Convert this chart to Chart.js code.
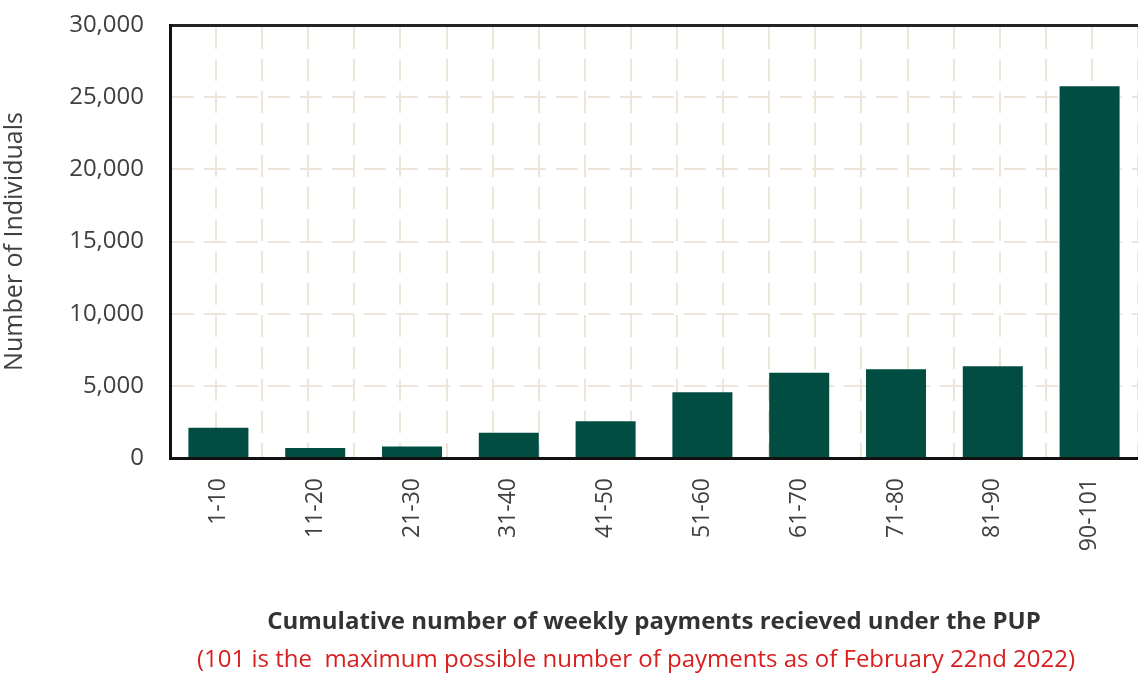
<!DOCTYPE html>
<html>
<head>
<meta charset="utf-8">
<script src="https://cdn.jsdelivr.net/npm/chart.js@4/dist/chart.umd.min.js"></script>
<style>
  html, body { margin: 0; padding: 0; background: #fff; }
  #wrap { width: 1138px; height: 673px; }
</style>
</head>
<body>
<div id="wrap"><canvas id="pupChart" width="1138" height="673"></canvas></div>
<script>
const categories = ["1-10", "11-20", "21-30", "31-40", "41-50", "51-60", "61-70", "71-80", "81-90", "90-101"];
const individuals = [2100, 700, 800, 1750, 2550, 4550, 5900, 6150, 6350, 25750];
const yTicks = [0, 5000, 10000, 15000, 20000, 25000, 30000];

const gridColor = "#ede6d8";
const font = "'Open Sans', 'Noto Sans', sans-serif";
const noteText = "(101 is the  maximum possible number of payments as of February 22nd 2022)";

// red note line under the axis title, centred on the plot area
const notePlugin = {
  id: "note",
  afterDraw(chart) {
    const { ctx, chartArea } = chart;
    ctx.save();
    ctx.font = "24px " + font;
    ctx.fillStyle = "#d81e1e";
    ctx.textAlign = "center";
    ctx.textBaseline = "middle";
    ctx.fillText(noteText, (chartArea.left + chartArea.right) / 2 - 18, 660);
    ctx.restore();
  }
};

const canvas = document.getElementById("pupChart");

new Chart(canvas, {
  type: "bar",
  data: {
    labels: categories,
    datasets: [{
      label: "Number of Individuals",
      data: individuals,
      backgroundColor: "#024d41",
      barPercentage: 0.62,
      categoryPercentage: 1.0
    }]
  },
  options: {
    responsive: false,
    animation: false,
    layout: { padding: 0 },
    plugins: {
      legend: { display: false },
      tooltip: { enabled: false }
    },
    scales: {
      x: {
        type: "category",
        offset: true,
        grid: { display: false },
        border: { display: true, color: "#111", width: 3 },
        ticks: {
          color: "#404040",
          font: { family: font, size: 23 },
          maxRotation: 90,
          minRotation: 90,
          padding: 12
        },
        title: {
          display: true,
          text: "Cumulative number of weekly payments recieved under the PUP",
          color: "#333",
          font: { family: font, size: 24, weight: "bold" },
          padding: { top: 10, bottom: 36 }
        },
        afterFit: (scale) => { scale.height = 673 - 458; }
      },
      x2: {
        type: "linear",
        position: "top",
        min: 0,
        max: 10,
        ticks: { display: false, stepSize: 0.5 },
        grid: {
          color: gridColor,
          lineWidth: 2,
          drawTicks: false
        },
        border: { display: true, color: "#222", width: 3, dash: [22, 10] },
        afterFit: (scale) => { scale.height = 25; }
      },
      y: {
        min: 0,
        max: 30000,
        afterBuildTicks: (scale) => { scale.ticks = yTicks.map(v => ({ value: v })); },
        ticks: {
          color: "#404040",
          font: { family: font, size: 24 },
          padding: 26
        },
        grid: {
          color: gridColor,
          lineWidth: 2,
          drawTicks: false
        },
        border: { display: true, color: "#111", width: 3, dash: [22, 10] },
        title: {
          display: true,
          text: "Number of Individuals",
          color: "#404040",
          font: { family: font, size: 25 },
          padding: { top: 0, bottom: 0 }
        },
        afterFit: (scale) => {
          scale.width = 170;
          scale.paddingTop = 0;
          scale.paddingBottom = 0;
        }
      }
    }
  },
  plugins: [notePlugin]
});
</script>
</body>
</html>
